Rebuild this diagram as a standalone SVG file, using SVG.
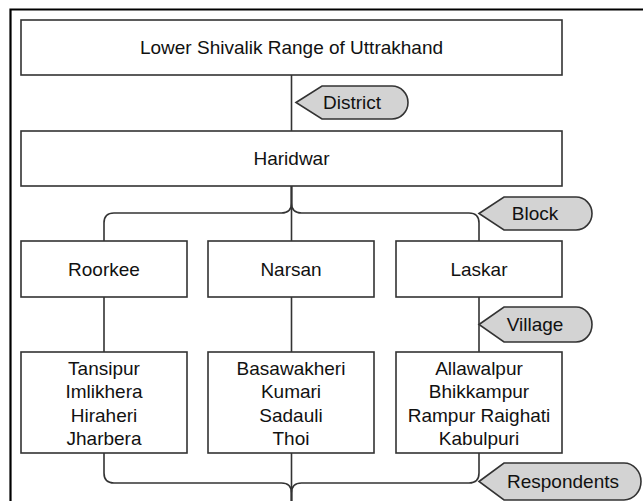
<svg xmlns="http://www.w3.org/2000/svg" width="643" height="501" viewBox="0 0 643 501">
<style>
.box{fill:#fff;stroke:#333;stroke-width:1.6}
.lbl{font-family:"Liberation Sans",Arial,sans-serif;font-size:19px;fill:#111;text-anchor:middle;dominant-baseline:central}
.tag{fill:#d3d3d3;stroke:#333;stroke-width:1.6}
.con{fill:none;stroke:#333;stroke-width:1.6}
</style>
<rect x="0" y="0" width="643" height="501" fill="#fff"/>
<path d="M650 9.5 H10.5 V510" fill="none" stroke="#000" stroke-width="2.2"/>
<g id="connectors">
<path class="con" d="M291.5 75 V131"/>
<path class="con" d="M291.5 186 V203 Q291.5 213 281.5 213 H114 Q104 213 104 223 V241"/>
<path class="con" d="M291.5 186 V203 Q291.5 213 301.5 213 H469 Q479 213 479 223 V241"/>
<path class="con" d="M291.5 186 V241"/>
<path class="con" d="M104 297 V352"/>
<path class="con" d="M291.5 297 V352"/>
<path class="con" d="M479 297 V352"/>
<path class="con" d="M104 453 V473 Q104 483 114 483 H281.5 Q291.5 483 291.5 493 V501"/>
<path class="con" d="M479 453 V473 Q479 483 469 483 H301.5 Q291.5 483 291.5 493 V501"/>
<path class="con" d="M291.5 453 V501"/>
</g>
<g id="range"><rect class="box" x="21" y="20" width="541" height="55"/><text class="lbl" x="291.5" y="47.5">Lower Shivalik Range of Uttrakhand</text></g>
<g id="haridwar"><rect class="box" x="21" y="131" width="541" height="55"/><text class="lbl" x="291.5" y="158.5">Haridwar</text></g>
<g id="roorkee"><rect class="box" x="21" y="241" width="166" height="56"/><text class="lbl" x="104" y="269">Roorkee</text></g>
<g id="narsan"><rect class="box" x="208" y="241" width="166" height="56"/><text class="lbl" x="291" y="269">Narsan</text></g>
<g id="laskar"><rect class="box" x="396" y="241" width="166" height="56"/><text class="lbl" x="479" y="269">Laskar</text></g>
<g id="villages-roorkee"><rect class="box" x="21" y="352" width="166" height="101"/>
<text class="lbl" x="104" y="368.5">Tansipur</text><text class="lbl" x="104" y="391.8">Imlikhera</text><text class="lbl" x="104" y="415.1">Hiraheri</text><text class="lbl" x="104" y="438.4">Jharbera</text></g>
<g id="villages-narsan"><rect class="box" x="208" y="352" width="166" height="101"/>
<text class="lbl" x="291" y="368.5">Basawakheri</text><text class="lbl" x="291" y="391.8">Kumari</text><text class="lbl" x="291" y="415.1">Sadauli</text><text class="lbl" x="291" y="438.4">Thoi</text></g>
<g id="villages-laskar"><rect class="box" x="396" y="352" width="166" height="101"/>
<text class="lbl" x="479" y="368.5">Allawalpur</text><text class="lbl" x="479" y="391.8">Bhikkampur</text><text class="lbl" x="479" y="415.1">Rampur Raighati</text><text class="lbl" x="479" y="438.4">Kabulpuri</text></g>
<g id="tag-district"><path class="tag" d="M296 102.5 L322 86 H392 A16 16.5 0 0 1 392 119 H322 Z"/><text class="lbl" x="352" y="102.5">District</text></g>
<g id="tag-block"><path class="tag" d="M479 213.5 L504 197 H576 A16 16.5 0 0 1 576 230 H504 Z"/><text class="lbl" x="535" y="213.5">Block</text></g>
<g id="tag-village"><path class="tag" d="M479 324.5 L504 307 H576 A16 17.5 0 0 1 576 342 H504 Z"/><text class="lbl" x="535" y="324.5">Village</text></g>
<g id="tag-respondents"><path class="tag" d="M479 481.5 L504 463 H624 A17 18.5 0 0 1 624 500 H504 Z"/><text class="lbl" x="563" y="481.5">Respondents</text></g>
</svg>
